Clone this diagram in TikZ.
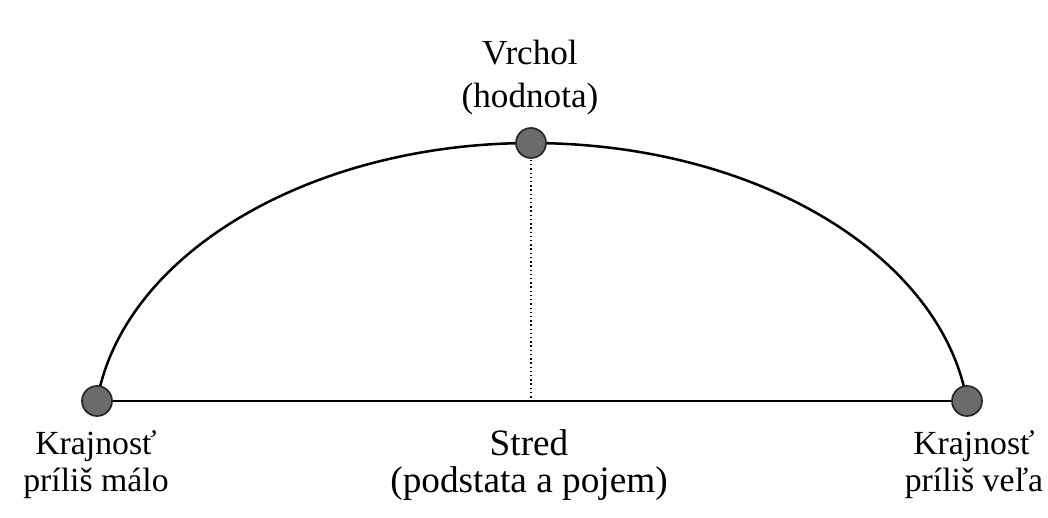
\documentclass[tikz,border=0pt]{standalone}
\usepackage{fontspec}
\setmainfont{Liberation Serif}
\usetikzlibrary{positioning}

\tikzset{
  curve/.style={line width=1.8pt, black},
  dot/.style={circle, draw=black!85, line width=1.2pt, fill=black!58, minimum size=0.75cm, inner sep=0pt},
  lbl/.style={align=center, inner sep=0pt, font=\fontsize{24}{26.5}\selectfont}
}

\begin{document}
\begin{tikzpicture}[x=0.025cm, y=0.025cm]
        % coordinates in pixels of the 1048 x 518 sketch, y counted upwards
        \useasboundingbox (0,0) rectangle (1048,518);
        \coordinate (left) at (97,117);
        \coordinate (right) at (967,117);
        \coordinate (top) at (531,375);
        \coordinate (mid) at (531,117);
        % flattened ellipse whose centre lies below the base line
        \draw[curve] (left) arc[start angle=173.3, end angle=6.7, x radius=438, y radius=292];
        \draw[curve] (left) -- (right);
        \draw[line width=1pt, dotted] (top) -- (mid);
        \node[dot] (leftdot) at (left) {};
        \node[dot] (rightdot) at (right) {};
        \node[dot] (topdot) at (top) {};
        \node[lbl, anchor=south, font=\fontsize{25}{30.5}\selectfont] (peak) at (530,403) {Vrchol\\(hodnota)};
        \node[lbl, anchor=north] (lowend) at (96,88) {Krajnosť\\príliš málo};
        \node[lbl, anchor=north, font=\fontsize{26.5}{26.5}\selectfont] (middle) at (529,89) {Stred\\(podstata a pojem)};
        \node[lbl, anchor=north] (highend) at (974,88) {Krajnosť\\príliš veľa};
\end{tikzpicture}
\end{document}
